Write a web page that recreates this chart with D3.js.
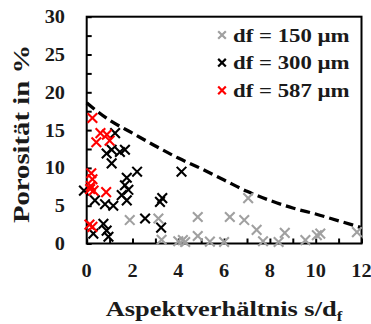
<!DOCTYPE html>
<html lang="de">
<head>
<meta charset="UTF-8">
<title>Porosität über Aspektverhältnis</title>
<script src="https://d3js.org/d3.v7.min.js"></script>
<style>
  body { margin: 0; background: #fff; }
  svg text { font-family: "Liberation Serif", "Times New Roman", serif; font-weight: bold; fill: #1a1a1a; }
</style>
</head>
<body>
<div id="chart"></div>
<script>
// tick labels and tick positions
const xLabels = [0, 2, 4, 6, 8, 10, 12];
const xTickPos = [0, 1, 2, 3, 4, 5, 6, 7, 8, 9, 10, 11, 12];
const yLabels = [0, 5, 10, 15, 20, 25, 30];
const yTickPos = [0, 2.5, 5, 7.5, 10, 12.5, 15, 17.5, 20, 22.5, 25, 27.5, 30];

// measured points [s/df, porosity %]
const df150 = [
  [1.88, 3.1], [3.13, 3.3], [3.27, 0.5], [4.0, 0.3], [4.2, 0.45], [4.3, 0.2],
  [4.85, 3.5], [4.85, 1.0], [5.38, 0.25], [6.0, 0.2], [6.25, 3.5], [6.88, 3.1],
  [7.05, 6.0], [7.42, 1.8], [7.7, 0.3], [8.38, 0.2], [8.65, 1.4], [9.55, 0.45],
  [10.05, 1.1], [10.2, 1.3], [11.8, 1.5]
];
const df300 = [
  [-0.12, 7.0], [0.36, 5.7], [0.8, 5.2], [1.16, 5.0], [0.73, 2.6], [0.29, 1.3],
  [0.87, 1.7], [0.95, 0.9], [0.87, 11.9], [1.09, 12.4], [1.09, 10.6], [1.24, 14.6],
  [1.45, 12.1], [1.67, 12.4], [1.75, 8.7], [1.67, 7.7], [1.82, 7.1], [1.53, 6.4],
  [1.75, 5.7], [2.2, 9.5], [4.14, 9.5], [3.3, 6.0], [3.2, 5.5], [2.55, 3.3],
  [3.25, 2.1]
];
const df587 = [
  [0.25, 16.6], [0.6, 14.6], [0.88, 14.4], [0.42, 13.4], [1.0, 13.6],
  [0.2, 9.3], [0.25, 8.5], [0.18, 7.6], [0.3, 7.0], [0.15, 7.2], [0.85, 6.8],
  [0.12, 2.5], [0.25, 2.2]
];

// dashed upper bound curve
const limitX = [0, 1, 2, 3, 4, 5, 6, 7, 8, 9, 10, 11, 12];
const limitY = [18.6, 16.3, 14.6, 12.9, 11.3, 9.9, 8.4, 6.9, 5.7, 4.7, 3.9, 3.0, 2.1];

const series = [
  { name: 'df = 150 µm', color: '#a0a0a0', data: df150 },
  { name: 'df = 300 µm', color: '#000000', data: df300 },
  { name: 'df = 587 µm', color: '#ff0000', data: df587 }
];

const width = 371, height = 324;
const plot = { left: 86.7, right: 361.5, top: 16.7, bottom: 243.5 };
const stretch = 1.2;     // the original lettering is wider than Liberation Serif
const tickStretch = 1.1;

const svg = d3.select('#chart').append('svg')
  .attr('width', width)
  .attr('height', height);

const x = d3.scaleLinear().domain([0, 12]).range([plot.left, plot.right]);
const y = d3.scaleLinear().domain([0, 30]).range([plot.bottom, plot.top]);

// ticks pointing into the plot
svg.append('g')
  .attr('transform', `translate(0,${plot.bottom})`)
  .call(d3.axisBottom(x).tickValues(xTickPos).tickSize(-5).tickFormat(''))
  .call(g => g.select('.domain').remove())
  .call(g => g.selectAll('line').attr('stroke', '#000').attr('stroke-width', 2));

svg.append('g')
  .attr('transform', `translate(${plot.left},0)`)
  .call(d3.axisLeft(y).tickValues(yTickPos).tickSize(-5).tickFormat(''))
  .call(g => g.select('.domain').remove())
  .call(g => g.selectAll('line').attr('stroke', '#000').attr('stroke-width', 2));

// tick labels
svg.append('g')
  .selectAll('text')
  .data(xLabels)
  .join('text')
  .attr('transform', d => `translate(${x(d)},277) scale(${tickStretch},1)`)
  .attr('text-anchor', 'middle')
  .attr('font-size', 18.5)
  .text(d => d);

svg.append('g')
  .selectAll('text')
  .data(yLabels)
  .join('text')
  .attr('transform', d => `translate(65,${y(d)}) scale(${tickStretch},1)`)
  .attr('dy', '0.35em')
  .attr('text-anchor', 'end')
  .attr('font-size', 18.5)
  .text(d => d);

// frame
svg.append('rect')
  .attr('x', plot.left)
  .attr('y', plot.top)
  .attr('width', plot.right - plot.left)
  .attr('height', plot.bottom - plot.top)
  .attr('fill', 'none')
  .attr('stroke', '#000')
  .attr('stroke-width', 2);

// dashed curve
const line = d3.line()
  .x((d, i) => x(limitX[i]))
  .y(d => y(d))
  .curve(d3.curveMonotoneX);

svg.append('path')
  .datum(limitY)
  .attr('d', line)
  .attr('fill', 'none')
  .attr('stroke', '#000')
  .attr('stroke-width', 3.3)
  .attr('stroke-dasharray', '10,5');

// x markers
const cross = d3.symbol().type(d3.symbolX).size(62);

series.forEach(s => {
  svg.append('g')
    .selectAll('path')
    .data(s.data)
    .join('path')
    .attr('transform', d => `translate(${x(d[0])},${y(d[1])})`)
    .attr('d', cross)
    .attr('fill', 'none')
    .attr('stroke', s.color)
    .attr('stroke-width', 2.1);
});

// legend
const legend = svg.append('g')
  .selectAll('g')
  .data(series)
  .join('g')
  .attr('transform', (d, i) => `translate(222,${35 + i * 27.7})`);

legend.append('path')
  .attr('d', d3.symbol().type(d3.symbolX).size(40))
  .attr('fill', 'none')
  .attr('stroke', d => d.color)
  .attr('stroke-width', 2.2);

legend.append('text')
  .attr('transform', `translate(11,0) scale(${stretch},1)`)
  .attr('dy', '0.35em')
  .attr('font-size', 19)
  .text(d => d.name);

// axis titles
svg.append('text')
  .attr('transform', `translate(29,134) rotate(-90) scale(${stretch + 0.05},1)`)
  .attr('text-anchor', 'middle')
  .attr('font-size', 23)
  .text('Porosität in %');

const xt = svg.append('text')
  .attr('transform', `translate(224,316) scale(${stretch},1)`)
  .attr('text-anchor', 'middle')
  .attr('font-size', 22)
  .text('Aspektverhältnis s/d');
xt.append('tspan')
  .attr('font-size', 14)
  .attr('dy', 5)
  .text('f');
</script>
</body>
</html>
